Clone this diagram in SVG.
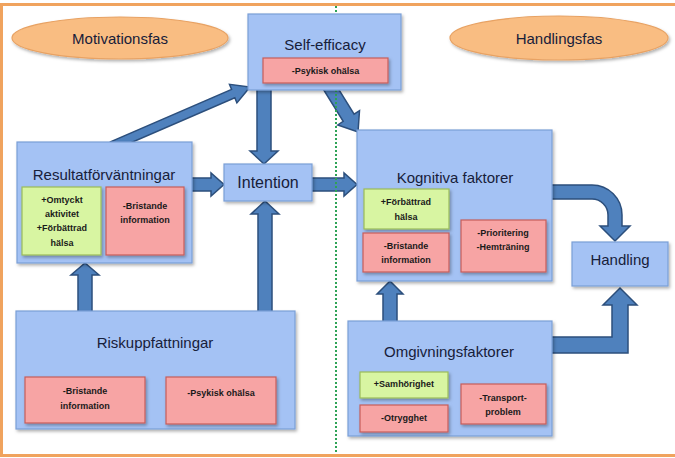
<svg xmlns="http://www.w3.org/2000/svg" width="675" height="458" viewBox="0 0 675 458">
<defs>
<filter id="sh" x="-10%" y="-10%" width="130%" height="130%">
<feDropShadow dx="1.5" dy="2" stdDeviation="1.5" flood-color="#000" flood-opacity="0.3"/>
</filter>
<style>
.box{fill:#a4c2f4;stroke:#7b9fd6;stroke-width:1.2;filter:url(#sh)}
.pink{fill:#f7a4a4;stroke:#c65e5a;stroke-width:1.2;filter:url(#sh)}
.green{fill:#d8f5a2;stroke:#9bbb59;stroke-width:1.2;filter:url(#sh)}
.ell{fill:#f9bd82;stroke:#e8a263;stroke-width:1.2;filter:url(#sh)}
.arr{fill:#4f81bd;stroke:#2c4f7c;stroke-width:1.5;stroke-linejoin:miter}
.t{font-family:"Liberation Sans",Arial,sans-serif;font-size:15px;fill:#17203a;text-anchor:middle}
.s{font-family:"Liberation Sans",Arial,sans-serif;font-size:9px;font-weight:bold;fill:#1a1a1a;text-anchor:middle}
</style>
</defs>
<rect x="1.5" y="4.5" width="690" height="451" fill="#ffffff" stroke="#f0a35e" stroke-width="3"/>

<g id="connectors">
<polygon class="arr" points="113.6,150.2 110.4,141.8 231.6,89.4 229.5,84.3 250,87 236.9,102.9 234.8,97.8"/>
<polygon class="arr" points="257,86 271,86 271,151 278,151 264,164 250,151 257,151"/>
<polygon class="arr" points="334.4,82.4 354.1,114.2 359.5,110.6 358,132 337.8,125 343.2,121.4 323.6,89.6"/>
<polygon class="arr" points="190,178 211,178 211,173 224,184.5 211,196 211,191 190,191"/>
<polygon class="arr" points="310,178 344,178 344,173 357,184.5 344,196 344,191 310,191"/>
<polygon class="arr" points="258,314 258,214 251,214 265,201 279,214 272,214 272,314"/>
<polygon class="arr" points="78,314 78,275 71,275 85,263 99,275 92,275 92,314"/>
<polygon class="arr" points="383,324 383,294 377,294 390,281 403,294 397,294 397,324"/>
<path class="arr" d="M548,185 H592 A30,30 0 0 1 622,215 V226 H630 L615,241 L600,226 H608 V215 A16,16 0 0 0 592,199 H548 Z"/>
<path class="arr" d="M548,337 H612 V305 H603 L620,288 L637,305 H628 V353 H548 Z"/>
</g>

<line x1="336" y1="6" x2="336" y2="454" stroke="#2ea356" stroke-width="2" stroke-dasharray="2 2"/>

<g id="motivationsfas">
<ellipse class="ell" cx="120" cy="38" rx="108" ry="21"/>
<text class="t" x="120" y="44">Motivationsfas</text>
</g>
<g id="handlingsfas">
<ellipse class="ell" cx="559" cy="38" rx="109" ry="22"/>
<text class="t" x="559" y="44">Handlingsfas</text>
</g>

<g id="self-efficacy">
<rect class="box" x="248" y="14" width="153" height="76"/>
<text class="t" x="325" y="50">Self-efficacy</text>
<rect class="pink" x="263" y="58" width="125" height="25"/>
<text class="s" x="325.5" y="74">-Psykisk  ohälsa</text>
</g>

<g id="resultatforvantningar">
<rect class="box" x="17" y="142" width="175" height="121"/>
<text class="t" x="104" y="180">Resultatförväntningar</text>
<rect class="green" x="22" y="187" width="79" height="68"/>
<text class="s" x="62" y="203">+Omtyckt</text>
<text class="s" x="62" y="217">aktivitet</text>
<text class="s" x="62" y="231">+Förbättrad</text>
<text class="s" x="62" y="246">hälsa</text>
<rect class="pink" x="106" y="187" width="78" height="68"/>
<text class="s" x="145" y="209">-Bristande</text>
<text class="s" x="145" y="223">information</text>
</g>

<g id="intention">
<rect class="box" x="224" y="164" width="88" height="37"/>
<text class="t" x="268" y="188" style="font-size:16px">Intention</text>
</g>

<g id="kognitiva-faktorer">
<rect class="box" x="357" y="130" width="195" height="151"/>
<text class="t" x="455" y="183">Kognitiva faktorer</text>
<rect class="green" x="364" y="189" width="85" height="40"/>
<text class="s" x="406" y="205">+Förbättrad</text>
<text class="s" x="406" y="220">hälsa</text>
<rect class="pink" x="363" y="233" width="86" height="39"/>
<text class="s" x="406" y="249">-Bristande</text>
<text class="s" x="406" y="263">information</text>
<rect class="pink" x="461" y="220" width="85" height="52"/>
<text class="s" x="503" y="236">-Prioritering</text>
<text class="s" x="503" y="250">-Hemträning</text>
</g>

<g id="handling">
<rect class="box" x="572" y="242" width="96" height="44"/>
<text class="t" x="620" y="265">Handling</text>
</g>

<g id="riskuppfattningar">
<rect class="box" x="16" y="311" width="279" height="118"/>
<text class="t" x="155" y="348">Riskuppfattningar</text>
<rect class="pink" x="25" y="377" width="120" height="46"/>
<text class="s" x="85" y="394">-Bristande</text>
<text class="s" x="85" y="409">information</text>
<rect class="pink" x="166" y="377" width="110" height="47"/>
<text class="s" x="221" y="396">-Psykisk ohälsa</text>
</g>

<g id="omgivningsfaktorer">
<rect class="box" x="348" y="321" width="204" height="115"/>
<text class="t" x="449" y="357">Omgivningsfaktorer</text>
<rect class="green" x="360" y="372" width="88" height="26"/>
<text class="s" x="404" y="387">+Samhörighet</text>
<rect class="pink" x="360" y="405" width="88" height="27"/>
<text class="s" x="404" y="421">-Otrygghet</text>
<rect class="pink" x="461" y="384" width="85" height="40"/>
<text class="s" x="503" y="401">-Transport-</text>
<text class="s" x="503" y="415">problem</text>
</g>
</svg>
